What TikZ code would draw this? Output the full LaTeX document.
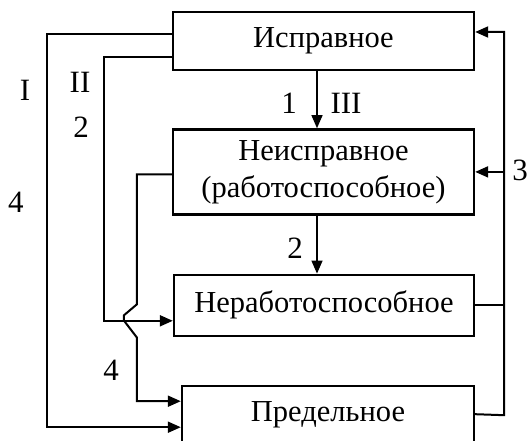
\documentclass[tikz,border=0pt]{standalone}
\usepackage{fontspec}
\setmainfont{Liberation Serif}
\usetikzlibrary{arrows.meta, positioning, calc}

\begin{document}
\begin{tikzpicture}[
        x=1pt, y=1pt,
        state/.style={draw, rectangle, line width=2.4pt, minimum width=301pt, minimum height=58pt, align=center, inner sep=2pt, font=\fontsize{30.5}{37}\selectfont},
        conn/.style={line width=2pt},
        arrow/.style={line width=2pt, -{Triangle[length=13pt, width=11pt]}},
        thinarrow/.style={line width=1.3pt, -{Triangle[length=13pt, width=11pt]}},
        lbl/.style={inner sep=0pt, font=\fontsize{31}{33}\selectfont}
    ]
        \useasboundingbox (0,0) rectangle (530,-441);

        \node[state] (isp) at (323.5,-41) {Исправное};
        \node[state, minimum height=85pt, below left=57pt and 0pt of isp.south east] (neisp) {Неисправное\\(работоспособное)};
        \node[state, minimum width=300pt, minimum height=61pt, below left=58pt and 0pt of neisp.south east] (nerab) {Неработоспособное};
        \node[state, minimum width=292pt, minimum height=58pt, below left=48pt and 0pt of nerab.south east] (pred) {Предельное};
        \coordinate (bus) at ([xshift=29pt]pred.east);

        % I
        \draw[arrow] ([yshift=7pt]isp.west) -- ++(-125,0) |- ([yshift=-12pt]pred.west);
        % II
        \draw[arrow] ([yshift=-16pt]isp.west) -- ++(-68,0) |- ([yshift=-15.5pt]nerab.west);
        % 4, jumping over II
        \draw[arrow] ([yshift=-2.5pt]neisp.west) -- ++(-35,0) -- ++(0,-130) -- ++(-13,-11) -- ++(0,-5) -- ++(13,-17) |- ([yshift=14pt]pred.west);
        % III
        \draw[thinarrow] (isp.south -| 317,0) -- (neisp.north -| 317,0);
        \draw[thinarrow] (neisp.south -| 317,0) -- (nerab.north -| 317,0);
        % 3
        \draw[arrow] ([yshift=1pt]pred.east) -- (bus) |- ([yshift=9pt]isp.east);
        \draw[conn] (nerab.east) -- (bus |- nerab.east);
        \draw[arrow] (bus |- neisp.east) -- (neisp.east);

        \node[lbl] (rI) at (25,-90) {I};
        \node[lbl] (rII) at (80,-82) {II};
        \node[lbl] (rIII) at (346,-103) {III};
        \node[lbl] (n1) at (289,-103) {1};
        \node[lbl] (n2a) at (81,-127) {2};
        \node[lbl] (n2b) at (295,-248) {2};
        \node[lbl] (n3) at (520,-170) {3};
        \node[lbl] (n4a) at (16,-202) {4};
        \node[lbl] (n4b) at (111,-370) {4};
    \end{tikzpicture}
\end{document}
